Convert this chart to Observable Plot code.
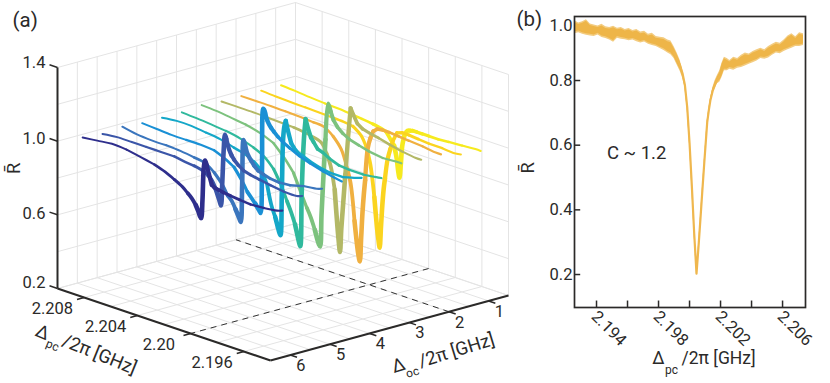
<!DOCTYPE html>
<html>
<head>
<meta charset="utf-8">
<script src="https://cdn.jsdelivr.net/npm/d3@7"></script>
<script src="https://cdn.jsdelivr.net/npm/@observablehq/plot@0.6"></script>
<style>
html,body{margin:0;padding:0;background:#fff}
#wrap{display:flex;width:830px;height:383px}
svg{display:block}
</style>
</head>
<body>
<div id="wrap"></div>
<script>
// ---------- panel (a) data ----------
const curveOc = [6, 5.5, 5, 4.5, 4, 3.5, 3, 2.5, 2, 1.5, 1];
const curveColors = ["#2e2e8c", "#3a55a8", "#3a75bd", "#1a90d5", "#14a7c8", "#30b99d", "#7dc27e", "#b3b866", "#f0b040", "#fbd41f", "#f6ea1e"];
const pcGrid = [2.2096, 2.2085, 2.2074, 2.2063, 2.2052, 2.2042, 2.2034, 2.2027, 2.2021, 2.2017, 2.2014, 2.2011, 2.2009, 2.2008,
  2.2007, 2.2006, 2.2005, 2.2004, 2.2003, 2.2001, 2.1999, 2.1997, 2.1994, 2.1990, 2.1985, 2.1978, 2.1970, 2.1960, 2.1950, 2.1946];
const r60 = [1.0, 1.01, 1.02, 1.015, 1.0, .985, .965, .94, .915, .89, .87, .84, .81, .79, .78, .88, 1.06, 1.10, 1.08, 1.03, .98, .97, .965, .96, .955, .95, .945, .95, .96, .97];
const r55 = [.99, 1.0, 1.0, 1.0, 1.0, 1.0, .99, .985, .975, .96, .94, .90, .86, .84, .82, .95, 1.12, 1.21, 1.19, 1.14, 1.11, 1.09, 1.07, 1.05, 1.04, 1.03, 1.02, 1.01, 1.01, 1.02];
const r50 = [1.0, .985, .98, .98, .975, .965, .955, .92, .87, .82, .80, .76, .73, .715, .70, .90, 1.15, 1.13, 1.10, 1.07, 1.05, 1.03, 1.01, 1.0, .99, .985, .99, 1.01, 1.02, 1.03];
const r45 = [.99, .985, .98, .98, .98, .975, .95, .92, .86, .81, .785, .76, .74, .73, .72, .95, 1.29, 1.28, 1.25, 1.22, 1.20, 1.185, 1.165, 1.145, 1.125, 1.10, 1.08, 1.06, 1.045, 1.04];
const r40 = [.99, 1.0, 1.0, .99, .98, .96, .945, .92, .88, .82, .72, .66, .61, .585, .57, .80, 1.10, 1.17, 1.20, 1.14, 1.09, 1.07, 1.05, 1.04, 1.025, 1.01, 1.0, 1.0, 1.02, 1.03];
const r35 = [.99, .985, .978, .97, .955, .93, .90, .85, .77, .70, .65, .59, .53, .50, .48, .76, .97, 1.10, 1.18, 1.13, 1.09, 1.07, 1.04, 1.03, 1.01, .99, .985, .985, .995, 1.0];
const r30 = [1.0, .995, .985, .975, .955, .925, .865, .80, .70, .635, .59, .53, .48, .46, .45, .62, .77, .91, 1.04, 1.24, 1.20, 1.16, 1.13, 1.105, 1.085, 1.07, 1.055, 1.045, 1.05, 1.05];
const r25 = [.99, .99, .99, .988, .985, .982, .975, .965, .95, .90, .84, .72, .53, .45, .39, .52, .62, .72, .82, 1.02, 1.19, 1.16, 1.12, 1.10, 1.09, 1.08, 1.065, 1.05, 1.04, 1.04];
const r20 = [.99, .99, .99, .988, .985, .98, .975, .94, .885, .80, .72, .52, .39, .34, .31, .44, .58, .68, .76, .94, 1.0, 1.04, 1.06, 1.065, 1.065, 1.06, 1.055, 1.05, 1.04, 1.04];
const r15 = [.99, .985, .982, .98, .978, .975, .972, .965, .93, .875, .79, .62, .46, .40, .355, .47, .59, .68, .74, .85, .91, .96, 1.01, 1.02, 1.02, 1.015, 1.01, 1.01, 1.005, 1.01];
const r10 = [.99, .985, .978, .972, .968, .96, .955, .948, .94, .93, .90, .87, .80, .74, .705, .78, .88, .92, .95, .975, .98, .985, .985, .985, .985, .985, .99, .995, 1.0, 1.0];
const curveR = [r60, r55, r50, r45, r40, r35, r30, r25, r20, r15, r10];

const gridOc = [.5, 1, 1.5, 2, 2.5, 3, 3.5, 4, 4.5, 5, 5.5, 6, 6.5];
const gridPc = [2.194, 2.196, 2.198, 2.2, 2.202, 2.204, 2.206, 2.208, 2.21];
const gridR = [.2, .4, .6, .8, 1.0, 1.2, 1.4];
const ticksOc = [1, 2, 3, 4, 5, 6];
const ticksPc = [2.196, 2.2, 2.204, 2.208];
const labelsPc = ["2.196", "2.20", "2.204", "2.208"];
const ticksR = [.2, .6, 1.0, 1.4];
const ticksRLift = [6, 1, 2, 5];
const dashOc = 2, dashPc = 2.2;

// ---------- panel (b) data ----------
const bandPc = [2.1926, 2.19285, 2.1931, 2.19335, 2.1936, 2.19385, 2.1941, 2.19435, 2.1946, 2.19485, 2.1951, 2.19535, 2.1956, 2.19585, 2.1961, 2.19635, 2.1966, 2.19685, 2.1971, 2.19735, 2.1976, 2.19785, 2.1981, 2.19835, 2.1986, 2.1988, 2.199, 2.1992, 2.1994, 2.19955, 2.1997, 2.19985, 2.2, 2.20015, 2.2003, 2.20045, 2.2006, 2.2007, 2.20082, 2.20095, 2.20114, 2.20125, 2.20135, 2.2015, 2.20165, 2.20179, 2.20195, 2.2021, 2.20225, 2.20243, 2.2026, 2.20285, 2.2031, 2.20335, 2.2036, 2.20385, 2.2041, 2.20435, 2.2046, 2.20485, 2.2051, 2.20535, 2.2056, 2.20585, 2.2061, 2.20635, 2.2066, 2.20685, 2.2071, 2.20735];
const bandUpper = [.985, .978, .982, .988, .975, .972, .969, .974, .966, .964, .968, .962, .964, .958, .961, .955, .958, .95, .952, .943, .946, .936, .934, .932, .925, .922, .905, .885, .862, .835, .795, .725, .615, .48, .335, .205, .305, .375, .46, .55, .676, .715, .745, .778, .8, .815, .83, .855, .872, .868, .862, .872, .868, .878, .885, .882, .89, .895, .9, .895, .905, .912, .918, .915, .925, .938, .945, .935, .948, .945];
const bandLower = [.945, .948, .943, .94, .938, .936, .941, .933, .93, .925, .918, .931, .928, .926, .923, .925, .92, .916, .919, .912, .908, .905, .899, .893, .885, .88, .868, .848, .828, .808, .778, .71, .6, .465, .32, .2, .295, .365, .45, .54, .665, .705, .735, .76, .775, .79, .795, .81, .83, .83, .835, .832, .838, .84, .845, .85, .855, .86, .868, .866, .87, .878, .885, .883, .89, .895, .9, .905, .905, .908];
const ticksB = [2.194, 2.196, 2.198, 2.2, 2.202, 2.204, 2.206];
const labelsB = [2.194, 2.198, 2.202, 2.206];
const ticksRB = [.2, .4, .6, .8];

// ---------- shared styling ----------
const FONT = "Roboto, 'Open Sans', sans-serif";
const INK = "#2b2a29";
const GRID = "#e4e4e4";

// orthographic view of (Δoc, Δpc, R) onto the left plot's plane
const project = (oc, pc, r) => {
  const u = 6.5 - oc, t = (pc - 2.194) / 0.016, h = (r - .2) / 1.2;
  return [270 + u * 39.67 - t * 213, 360 - u * 10.83 - t * 72 - h * 221];
};
const seg = (a, b) => {
  const p = project(...a), q = project(...b);
  return {x1: p[0], y1: p[1], x2: q[0], y2: q[1]};
};
const at = (oc, pc, r) => {
  const p = project(oc, pc, r);
  return {x: p[0], y: p[1]};
};
const links = (list, o) => Plot.link(list, {x1: "x1", y1: "y1", x2: "x2", y2: "y2", ...o});

const wallAndFloor = [
  ...gridOc.map(o => seg([o, 2.194, .2], [o, 2.21, .2])),
  ...gridPc.map(p => seg([.5, p, .2], [6.5, p, .2])),
  ...gridOc.map(o => seg([o, 2.21, .2], [o, 2.21, 1.4])),
  ...gridR.map(r => seg([.5, 2.21, r], [6.5, 2.21, r])),
  ...gridPc.map(p => seg([.5, p, .2], [.5, p, 1.4])),
  ...gridR.map(r => seg([.5, 2.194, r], [.5, 2.21, r]))
];

// each trace is split into stretches so the pen can swell around the resonance
const stretches = [[0, 3], [3, 5], [5, 7], [7, 9], [9, 11], [11, 18], [18, 20], [20, 21], [21, 22], [22, 23], [23, 24], [24, 25], [25, 26], [26, 27], [27, 29]];
const curveMarks = curveOc.map((oc, i) => {
  const rs = curveR[i];
  const pts = stretches.flatMap(([a, b], k) => {
    const mid = (pcGrid[a] + pcGrid[b]) / 2;
    const w = 1.9 + 3.0 * Math.exp(-Math.abs(mid - 2.2005) / 0.002);
    const out = [];
    for (let j = a; j <= b; j++) out.push({...at(oc, pcGrid[j], rs[j]), k, w});
    return out;
  });
  return Plot.line(pts, {x: "x", y: "y", z: "k", stroke: curveColors[i], strokeWidth: "w", curve: "catmull-rom", strokeLinecap: "round", strokeLinejoin: "round"});
}).reverse();

const tx = {fontFamily: FONT, fill: INK};
const label = (text, x, y, size, rotate = 0, anchor = "middle") =>
  Plot.text([text], {x: () => x, y: () => y, text: d => d, fontSize: size, rotate, textAnchor: anchor, ...tx});

const left = Plot.plot({
  width: 512, height: 383, margin: 0,
  x: {domain: [0, 512], range: [0, 512], axis: null},
  y: {domain: [0, 383], range: [0, 383], axis: null},
  marks: [
    links(wallAndFloor, {stroke: GRID, strokeWidth: 1}),
    links([seg([dashOc, 2.194, .2], [dashOc, 2.21, .2]), seg([.5, dashPc, .2], [6.5, dashPc, .2])],
      {stroke: "#333", strokeWidth: 1, strokeDasharray: "6,5"}),
    ...curveMarks,
    links([seg([6.5, 2.21, .2], [6.5, 2.21, 1.4]), seg([6.5, 2.21, .2], [6.5, 2.194, .2]), seg([6.5, 2.194, .2], [.5, 2.194, .2])],
      {stroke: INK, strokeWidth: 2}),
    links(ticksR.map(r => seg([6.5, 2.21, r], [6.5, 2.2106, r])), {stroke: INK, strokeWidth: 1.5}),
    links(ticksPc.map(p => seg([6.5, p, .2], [6.68, p, .2])), {stroke: INK, strokeWidth: 1.5}),
    links(ticksOc.map(o => seg([o, 2.194, .2], [o, 2.1935, .2])), {stroke: INK, strokeWidth: 1.5}),
    Plot.text(ticksR.map((r, i) => {
      const p = at(6.5, 2.21, r);
      return {x: p.x - 12, y: p.y - ticksRLift[i], s: r.toFixed(1)};
    }), {x: "x", y: "y", text: "s", textAnchor: "end", fontSize: 16.5, ...tx}),
    Plot.text(ticksPc.map((p, i) => ({...at(7.3, p, .2), s: labelsPc[i]})), {x: "x", y: "y", text: "s", dy: 3, fontSize: 16.5, ...tx}),
    Plot.text(ticksOc.map(o => ({...at(o, 2.1932, .2), o})), {x: "x", y: "y", text: "o", dy: 7, fontSize: 16.5, ...tx}),
    label("(a)", 12, 20, 20.5, 0, "start"),
    label("R\u0304", 13, 168, 19, -90),
    label("\u0394", 42, 332, 18.5, 22),
    label("pc", 52, 345, 12, 22),
    label("/2\u03C0 [GHz]", 99, 354, 18.5, 22),
    label("\u0394", 398, 365, 18.5, -17),
    label("oc", 412, 372, 12, -17),
    label("/2\u03C0 [GHz]", 456, 350, 18.5, -17)
  ]
});

const band = bandPc.map((x, i) => {
  const hi = bandUpper[i], lo = bandLower[i], e = Math.min(.005, (hi - lo) * .2);
  return {x, hi, lo, coreHi: hi - e, coreLo: lo + e, mid: (hi + lo) / 2};
});
const right = Plot.plot({
  width: 318, height: 383,
  marginLeft: 62, marginRight: 25, marginTop: 16, marginBottom: 76,
  x: {domain: [2.19258, 2.20748], axis: null},
  y: {domain: [.098, .998], axis: null},
  marks: [
    Plot.areaY(band, {x: "x", y1: "lo", y2: "hi", fill: "#f3cc80"}),
    Plot.areaY(band, {x: "x", y1: "coreLo", y2: "coreHi", fill: "#eeb548"}),
    Plot.line(band.filter(d => d.x > 2.1988 && d.x < 2.2021), {x: "x", y: "mid", stroke: "#efb74e", strokeWidth: 2.2, strokeLinejoin: "round"}),
    Plot.frame({stroke: INK, strokeWidth: 1.7}),
    Plot.ruleX(ticksB, {y1: .098, y2: .118, stroke: INK, strokeWidth: 1.5}),
    Plot.ruleY(ticksRB, {x1: 2.19258, x2: 2.19298, stroke: INK, strokeWidth: 1.5}),
    Plot.axisY(ticksRB, {tickSize: 0, tickPadding: 2, fontSize: 16.5, label: null, tickFormat: d => d.toFixed(1), ...tx}),
    Plot.text([1.0], {frameAnchor: "left", y: d => d, dx: -2, dy: 10, text: d => d.toFixed(1), textAnchor: "end", fontSize: 16.5, ...tx}),
    Plot.text(labelsB, {x: d => d, frameAnchor: "bottom", dy: 10, dx: -6, text: d => d.toFixed(3), rotate: 45, textAnchor: "start", fontSize: 16.5, ...tx}),
    Plot.text(["C ~ 1.2"], {x: () => 2.1948, y: () => .6, dy: 8, dx: -2, text: d => d, textAnchor: "start", fontSize: 18.5, ...tx}),
    Plot.text(["R\u0304"], {frameAnchor: "left", y: () => .53, dx: -47, text: d => d, rotate: -90, textAnchor: "middle", fontSize: 19, ...tx}),
    Plot.text(["(b)"], {frameAnchor: "top-left", dx: -58, dy: -5, text: d => d, textAnchor: "start", fontSize: 20.5, ...tx}),
    Plot.text(["\u0394"], {frameAnchor: "bottom-left", dx: 84, dy: 56, text: d => d, textAnchor: "middle", fontSize: 17.5, ...tx}),
    Plot.text(["pc"], {frameAnchor: "bottom-left", dx: 97, dy: 66, text: d => d, textAnchor: "middle", fontSize: 12, ...tx}),
    Plot.text(["/2\u03C0 [GHz]"], {frameAnchor: "bottom-left", dx: 144, dy: 56, text: d => d, textAnchor: "middle", fontSize: 17.5, ...tx})
  ]
});

document.getElementById("wrap").append(left, right);
</script>
</body>
</html>
